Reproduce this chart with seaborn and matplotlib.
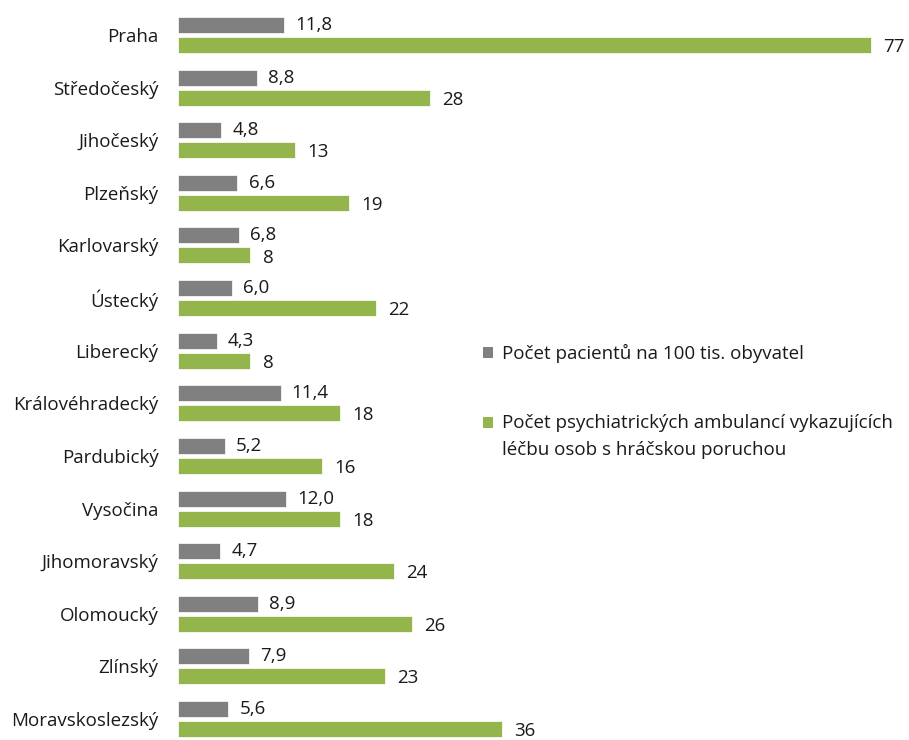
import matplotlib
matplotlib.use("Agg")
import matplotlib.pyplot as plt
import matplotlib.patches as mpatches
import seaborn as sns
import pandas as pd

regions = ["Praha", "Středočeský", "Jihočeský", "Plzeňský", "Karlovarský", "Ústecký",
           "Liberecký", "Královéhradecký", "Pardubický", "Vysočina", "Jihomoravský",
           "Olomoucký", "Zlínský", "Moravskoslezský"]
patients = [11.8, 8.8, 4.8, 6.6, 6.8, 6.0, 4.3, 11.4, 5.2, 12.0, 4.7, 8.9, 7.9, 5.6]
clinics = [77, 28, 13, 19, 8, 22, 8, 18, 16, 18, 24, 26, 23, 36]
series = ["Počet pacientů na 100 tis. obyvatel",
          "Počet psychiatrických ambulancí vykazujících\nléčbu osob s hráčskou poruchou"]
colors = ["#808080", "#94b44c"]

sns.set_style("white")
plt.rcParams["font.family"] = ["Open Sans", "DejaVu Sans"]
FS = 13.5
TXT = "#1a1a1a"

df = pd.DataFrame({
    "region": regions * 2,
    "value": patients + clinics,
    "series": [series[0]] * len(regions) + [series[1]] * len(regions),
})

fig = plt.figure(figsize=(9.09, 7.40), dpi=100)
ax = fig.add_axes([178 / 909, 0.0, 720 / 909, 1.0])
sns.barplot(data=df, y="region", x="value", hue="series", hue_order=series,
            palette=colors, saturation=1, orient="h", width=0.76, gap=0.2, legend=False,
            edgecolor="white", linewidth=0.5, ax=ax)

ax.set_xlim(0, 80)
ax.set_ylim(13 + 21 / 52.6, -35 / 52.6)
for s in ax.spines.values():
    s.set_visible(False)
ax.set_xticks([])
ax.set_xlabel("")
ax.set_ylabel("")
ax.tick_params(axis="y", length=0, pad=14, labelsize=FS, labelcolor=TXT)

fmt0 = [f"{v:.1f}".replace(".", ",") for v in patients]
fmt1 = [f"{v:d}" for v in clinics]
ax.bar_label(ax.containers[0], labels=fmt0, padding=8, fontsize=FS, color=TXT)
lab1 = ax.bar_label(ax.containers[1], labels=fmt1, padding=9, fontsize=FS, color=TXT)
for a in lab1:
    a.xyann = (a.xyann[0], -1.5)

handles = [mpatches.Patch(facecolor=c, edgecolor="none") for c in colors]
leg = fig.legend(handles, series, loc="upper left", bbox_to_anchor=(483 / 909, 1 - 344 / 740),
                 frameon=False, fontsize=FS, handlelength=0.55, handleheight=0.55,
                 handletextpad=0.45, labelspacing=2.7, borderpad=0, borderaxespad=0)
for t in leg.get_texts():
    t.set_color(TXT)
    t.set_linespacing(1.7)
# align the second marker with the first line of its label
r = leg.legend_handles[1]
r.set_y(r.get_y() + 10.5)

fig.savefig("out.png", dpi=100, facecolor="white")
